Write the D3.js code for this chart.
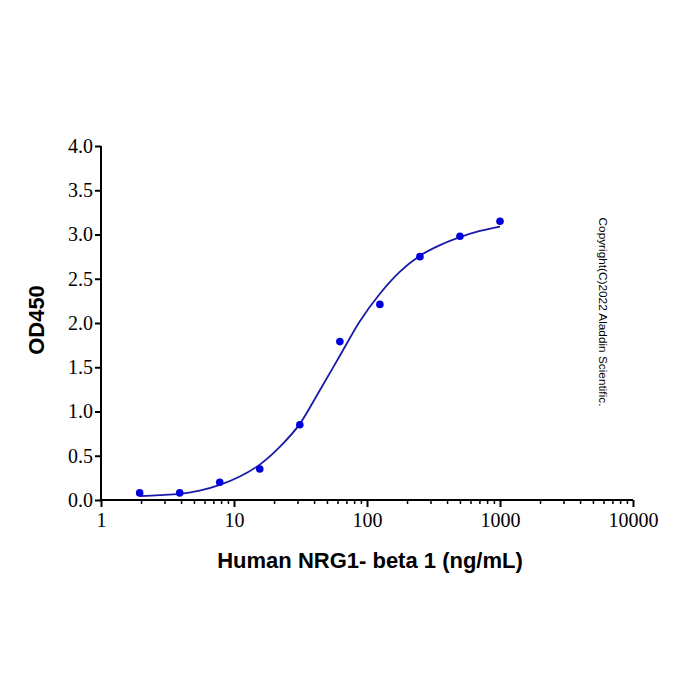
<!DOCTYPE html>
<html>
<head>
<meta charset="utf-8">
<script src="https://cdn.jsdelivr.net/npm/d3@7"></script>
<style>
  body { margin: 0; background: #fff; }
  .axisTitle { font-family: "Liberation Sans", Arial, sans-serif; font-weight: bold; font-size: 22px; fill: #000; }
</style>
</head>
<body>
<div id="chart"></div>
<script>
// measured points
var conc = [1.953, 3.906, 7.8125, 15.625, 31.25, 62.5, 125, 250, 500, 1000];
var od = [0.08, 0.08, 0.2, 0.35, 0.85, 1.79, 2.21, 2.75, 2.98, 3.15];

// fitted curve
var fitConc = [1.953, 2.76, 3.906, 5.52, 7.8125, 11.05, 15.625, 22.1, 31.25, 44.2, 62.5, 88.4, 125, 177, 250, 354, 500, 707, 1000];
var fitOd = [0.045, 0.055, 0.07, 0.105, 0.17, 0.265, 0.4, 0.6, 0.86, 1.24, 1.63, 2.02, 2.33, 2.58, 2.76, 2.88, 2.97, 3.04, 3.09];

var yTicks = [0, 0.5, 1.0, 1.5, 2.0, 2.5, 3.0, 3.5, 4.0];
var xTicks = [1, 10, 100, 1000, 10000];

var svgWidth = 700;
var svgHeight = 700;
var margin = { top: 146, right: 67, bottom: 200, left: 101 };
var width = svgWidth - margin.left - margin.right;
var height = svgHeight - margin.top - margin.bottom;

var svg = d3.select("#chart")
  .append("svg")
  .attr("width", svgWidth)
  .attr("height", svgHeight);

var chartGroup = svg.append("g")
  .attr("transform", `translate(${margin.left}, ${margin.top})`);

var xScale = d3.scaleLog().domain([1, 10000]).range([0, width]);
var yScale = d3.scaleLinear().domain([0, 4]).range([height, 0]);

// minor ticks on x
var minor = [];
for (var dec = 1; dec < 10000; dec *= 10) {
  for (var k = 2; k <= 9; k++) minor.push(dec * k);
}
chartGroup.append("g")
  .attr("transform", `translate(0, ${height})`)
  .call(d3.axisBottom(xScale).tickValues(minor).tickSize(4).tickFormat(""))
  .call(g => g.select(".domain").remove())
  .selectAll("line").attr("stroke", "#000").attr("stroke-width", 1.5);

var bottomAxis = d3.axisBottom(xScale).tickValues(xTicks).tickSize(7).tickPadding(6).tickFormat(d3.format("d"));
var xg = chartGroup.append("g")
  .attr("transform", `translate(0, ${height})`)
  .call(bottomAxis);
xg.select(".domain").attr("stroke", "#000").attr("stroke-width", 2).attr("d", `M0,0H${width}`);
xg.selectAll(".tick line").attr("stroke", "#000").attr("stroke-width", 2);

var leftAxis = d3.axisLeft(yScale).tickValues(yTicks).tickSize(6).tickPadding(2).tickFormat(d3.format(".1f"));
var yg = chartGroup.append("g").call(leftAxis);
yg.select(".domain").attr("stroke", "#000").attr("stroke-width", 2).attr("d", `M0,${height}V0`);
yg.selectAll(".tick line").attr("stroke", "#000").attr("stroke-width", 2);

[xg, yg].forEach(g => g
  .attr("font-family", "'Liberation Serif', 'Times New Roman', serif")
  .attr("font-size", 20)
  .selectAll(".tick text").attr("fill", "#000"));

// fit line
var fit = fitConc.map((c, i) => [c, fitOd[i]]);
chartGroup.append("path")
  .datum(fit)
  .attr("fill", "none")
  .attr("stroke", "#1a1aa8")
  .attr("stroke-width", 1.8)
  .attr("d", d3.line()
    .x(d => xScale(d[0]))
    .y(d => yScale(d[1]))
    .curve(d3.curveMonotoneX));

chartGroup.selectAll("circle")
  .data(conc)
  .enter()
  .append("circle")
  .attr("cx", d => xScale(d))
  .attr("cy", (d, i) => yScale(od[i]))
  .attr("r", 3.8)
  .attr("fill", "#0000dd");

// axis titles
chartGroup.append("text")
  .attr("class", "axisTitle")
  .attr("text-anchor", "middle")
  .attr("transform", `translate(-57, ${height / 2 - 3}) rotate(-90)`)
  .text("OD450");

chartGroup.append("text")
  .attr("class", "axisTitle")
  .attr("text-anchor", "middle")
  .attr("x", 269)
  .attr("y", height + 68)
  .text("Human NRG1- beta 1 (ng/mL)");

svg.append("text")
  .attr("text-anchor", "middle")
  .attr("transform", "translate(599, 312) rotate(90)")
  .attr("font-family", "Liberation Sans, Arial, sans-serif")
  .attr("font-size", "11.8px")
  .attr("fill", "#000")
  .text("Copyright(C)2022 Aladdin Scientific.");
</script>
</body>
</html>
